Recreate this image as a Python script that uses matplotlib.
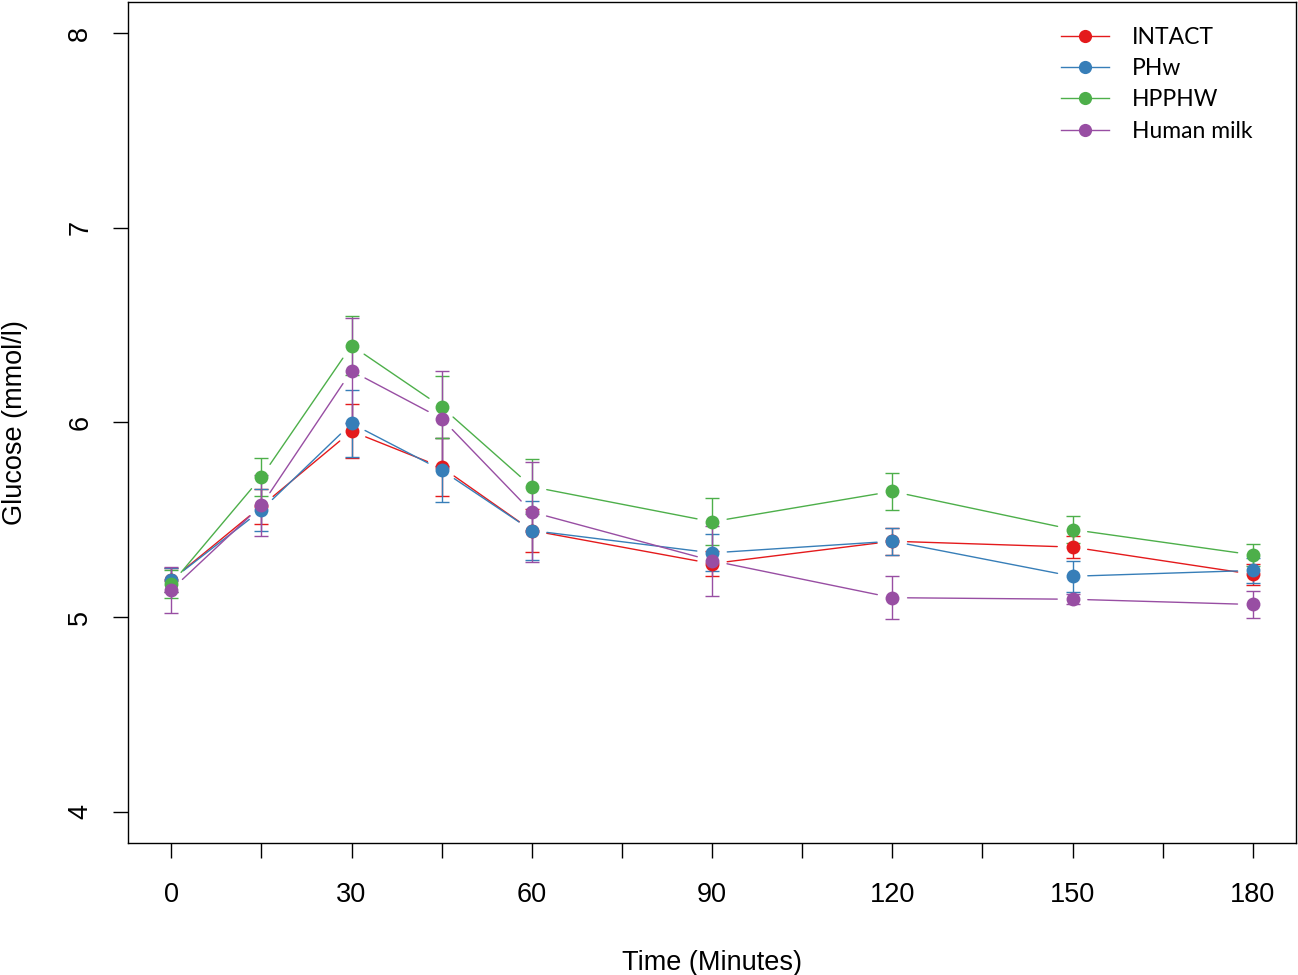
import matplotlib
matplotlib.use("Agg")
import matplotlib.pyplot as plt
from matplotlib.lines import Line2D

time = [0, 15, 30, 45, 60, 90, 120, 150, 180]
series_names = ["INTACT", "PHw", "HPPHW", "Human milk"]
colors = ["#E41A1C", "#377EB8", "#4DAF4A", "#984EA3"]

intact_mean = [5.19, 5.57, 5.955, 5.77, 5.445, 5.275, 5.39, 5.36, 5.22]
intact_sem = [0.06, 0.09, 0.14, 0.15, 0.11, 0.065, 0.07, 0.055, 0.055]
phw_mean = [5.19, 5.55, 5.995, 5.755, 5.445, 5.33, 5.39, 5.21, 5.24]
phw_sem = [0.06, 0.11, 0.17, 0.165, 0.15, 0.095, 0.07, 0.08, 0.065]
hpphw_mean = [5.17, 5.72, 6.395, 6.08, 5.67, 5.49, 5.646, 5.45, 5.32]
hpphw_sem = [0.07, 0.10, 0.15, 0.16, 0.14, 0.12, 0.095, 0.07, 0.055]
human_mean = [5.14, 5.574, 6.265, 6.02, 5.54, 5.29, 5.10, 5.092, 5.065]
human_sem = [0.12, 0.155, 0.27, 0.245, 0.255, 0.18, 0.11, 0.025, 0.068]

means = [intact_mean, phw_mean, hpphw_mean, human_mean]
sems = [intact_sem, phw_sem, hpphw_sem, human_sem]

x_ticks = [0, 15, 30, 45, 60, 75, 90, 105, 120, 135, 150, 165, 180]
x_labels = ["0", "", "30", "", "60", "", "90", "", "120", "", "150", "", "180"]
y_ticks = [4, 5, 6, 7, 8]

fig = plt.figure(figsize=(12.98, 9.75), dpi=100)
ax = fig.add_axes([0.0986, 0.1354, 0.8999, 0.8626])
ax.set_xlim(-7.2, 187.2)
ax.set_ylim(3.84, 8.16)

for m, s, c in zip(means, sems, colors):
    ax.errorbar(time, m, yerr=s, fmt="none", ecolor=c, elinewidth=1.0,
                capsize=5, capthick=1.0, zorder=2)
    for i in range(len(time) - 1):
        ax.annotate("", xy=(time[i + 1], m[i + 1]), xytext=(time[i], m[i]),
                    arrowprops=dict(arrowstyle="-", color=c, lw=1.0,
                                    shrinkA=11, shrinkB=11), zorder=2)
    ax.plot(time, m, linestyle="none", marker="o", markersize=10,
            color=c, markeredgewidth=0, zorder=3)

ax.set_xticks(x_ticks)
ax.set_xticklabels(x_labels, fontsize=19.5, family="Liberation Sans")
ax.set_yticks(y_ticks)
ax.set_yticklabels([str(v) for v in y_ticks], fontsize=19.5,
                   family="Liberation Sans", rotation=90, va="center")
ax.tick_params(axis="both", length=11, width=1, direction="out")
ax.tick_params(axis="y", pad=14)
ax.tick_params(axis="x", pad=17)
for sp in ax.spines.values():
    sp.set_linewidth(1)

ax.set_xlabel("Time (Minutes)", fontsize=19.5, family="Liberation Sans", labelpad=30)
ax.set_ylabel("Glucose (mmol/l)", fontsize=19.5, family="Liberation Sans", labelpad=28)

handles = [Line2D([0], [0], color=c, lw=1.0, marker="o", markersize=9.5,
                  markeredgewidth=0) for c in colors]
leg = ax.legend(handles, series_names, loc="upper right",
                bbox_to_anchor=(0.98, 0.995), frameon=False,
                prop=dict(family="Lato", size=16.5), handlelength=2.1,
                handletextpad=1.0, labelspacing=0.45)

fig.savefig("out.png", dpi=100)
